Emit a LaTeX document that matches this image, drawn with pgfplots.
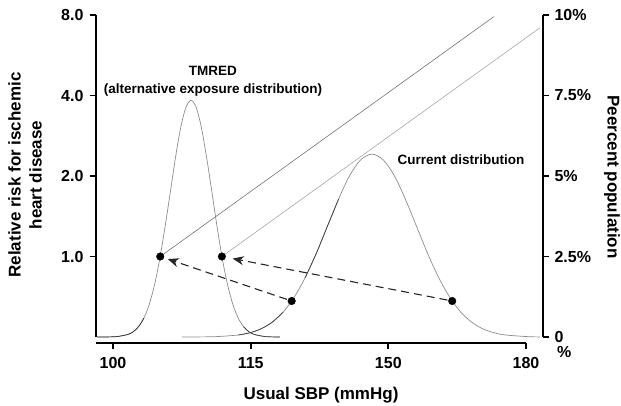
\documentclass[border=0pt]{standalone}
\usepackage{fontspec}
\setmainfont{Liberation Sans}
\usepackage{pgfplots}
\pgfplotsset{compat=1.18}
\usetikzlibrary{arrows.meta}

\begin{document}
\begin{tikzpicture}
\useasboundingbox (-96pt,-63pt) rectangle (525pt,343pt);
\pgfplotsset{
  base/.style={
    at={(0pt,0pt)}, anchor=south west,
    scale only axis, width=447pt, height=328pt,
    xmin=-0.1235, xmax=3.1235, ymin=-0.186, ymax=10,
    axis line style={draw=none},
    tick align=outside, major tick length=6pt,
    tick style={line width=1.8pt, black},
    /pgf/number format/assume math mode=true,
    tick label style={font=\bfseries\fontsize{16}{18}\selectfont},
    clip=false,
  }
}
\begin{axis}[base,
  xtick={0,1,2,3},
  xticklabels={\textbf{100},\textbf{115},\textbf{150},\textbf{180}},
  xticklabel style={yshift=-5pt},
  xtick pos=bottom,
  ytick={2.5,5,7.5,10},
  yticklabels={\textbf{1.0},\textbf{2.0},\textbf{4.0},\textbf{8.0}},
  yticklabel style={xshift=-3pt},
  ytick pos=left,
]
% axis lines
\draw[line width=2pt] (axis cs:-0.1235,10) -- (axis cs:-0.1235,0);
\draw[line width=2pt] (axis cs:-0.1235,-0.186) -- (axis cs:3,-0.186);

% TMRED distribution
\addplot[black!45, line width=0.7pt, smooth] coordinates {
  (-0.116,0.0) (-0.043,0.002) (0.033,0.016) (0.110,0.082) (0.148,0.168)
  (0.186,0.323) (0.224,0.585) (0.262,0.994) (0.300,1.590) (0.338,2.387)
  (0.376,3.365) (0.415,4.458) (0.453,5.548) (0.491,6.486) (0.529,7.124)
  (0.567,7.35) (0.605,7.124) (0.643,6.486) (0.681,5.548) (0.720,4.458)
  (0.758,3.365) (0.796,2.387) (0.834,1.590) (0.872,0.994) (0.910,0.585)
  (0.948,0.323) (0.986,0.168) (1.025,0.082) (1.101,0.016) (1.177,0.002)
  (1.213,0.0)
};
\addplot[black!80, line width=0.7pt, smooth] coordinates {
  (-0.116,0.0) (-0.043,0.002) (0.033,0.016) (0.110,0.082) (0.148,0.168)
  (0.186,0.323) (0.224,0.585)
};
\addplot[black!75, line width=0.7pt, smooth] coordinates {
  (0.948,0.323) (0.986,0.168) (1.025,0.082) (1.101,0.016) (1.177,0.002)
  (1.213,0.0)
};

% current distribution
\addplot[black!45, line width=0.7pt, smooth] coordinates {
  (0.500,0.0) (0.588,0.002) (0.750,0.012) (0.911,0.063) (0.992,0.130)
  (1.073,0.249) (1.154,0.452) (1.235,0.769) (1.315,1.229) (1.396,1.844)
  (1.477,2.600) (1.558,3.445) (1.639,4.287) (1.719,5.013) (1.800,5.505)
  (1.881,5.68) (1.962,5.505) (2.043,5.013) (2.123,4.287) (2.204,3.445)
  (2.285,2.600) (2.366,1.844) (2.447,1.229) (2.527,0.769) (2.608,0.452)
  (2.689,0.249) (2.770,0.130) (2.851,0.063) (3.012,0.012) (3.100,0.003)
};
\addplot[black!75, line width=0.7pt, smooth] coordinates {
  (0.911,0.063) (0.992,0.130) (1.073,0.249) (1.154,0.452) (1.235,0.769)
};
\addplot[black!75, line width=0.7pt, smooth] coordinates {
  (1.396,1.844) (1.477,2.600) (1.558,3.445) (1.639,4.287)
};

% relative risk lines
\addplot[black!55, line width=0.6pt] coordinates {(0.343,2.5) (2.767,9.95)};
\addplot[black!35, line width=0.6pt] coordinates {(0.791,2.5) (3.100,9.60)};

% shifts
\addplot[black!85, line width=1.1pt, dash pattern=on 8pt off 5pt,
  -{Stealth[length=11pt,width=9pt,inset=3.5pt]}, shorten >=8pt, shorten <=5pt]
  coordinates {(1.298,1.118) (0.343,2.5)};
\addplot[black!85, line width=1.1pt, dash pattern=on 8pt off 5pt,
  -{Stealth[length=11pt,width=9pt,inset=3.5pt]}, shorten >=11pt, shorten <=5pt]
  coordinates {(2.464,1.118) (0.791,2.5)};

% points
\addplot[only marks, mark=*, mark size=3.8pt, black] coordinates {
  (0.343,2.5) (0.791,2.5) (1.298,1.118) (2.464,1.118)
};

\node[align=center, font=\bfseries\fontsize{13.5}{18}\selectfont]
  at (axis cs:0.726,7.95) {TMRED\\(alternative exposure distribution)};
\node[font=\bfseries\fontsize{13.5}{16}\selectfont]
  at (axis cs:2.528,5.50) {Current distribution};
\end{axis}

\begin{axis}[base,
  hide x axis,
  ytick={0,2.5,5,7.5,10},
  yticklabels={\textbf{0},\textbf{2.5\%},\textbf{5\%},\textbf{7.5\%},\textbf{10\%}},
  yticklabel style={xshift=2pt},
  ytick pos=right,
]
\draw[line width=2pt] (axis cs:3.1235,10) -- (axis cs:3.1235,0);
\node[anchor=north west, inner sep=0pt, font=\bfseries\fontsize{16}{18}\selectfont]
  at ([xshift=14pt,yshift=-9pt]axis cs:3.1235,0) {\%};
\end{axis}

\node[rotate=90, align=center, font=\bfseries\fontsize{17}{21}\selectfont]
  at (-71pt,168pt) {Relative risk for ischemic\\heart disease};
\node[rotate=-90, font=\bfseries\fontsize{17}{20}\selectfont]
  at (516pt,166pt) {Peercent population};
\node[anchor=base, font=\bfseries\fontsize{17}{20}\selectfont]
  at (225pt,-57pt) {Usual SBP (mmHg)};
\end{tikzpicture}
\end{document}
